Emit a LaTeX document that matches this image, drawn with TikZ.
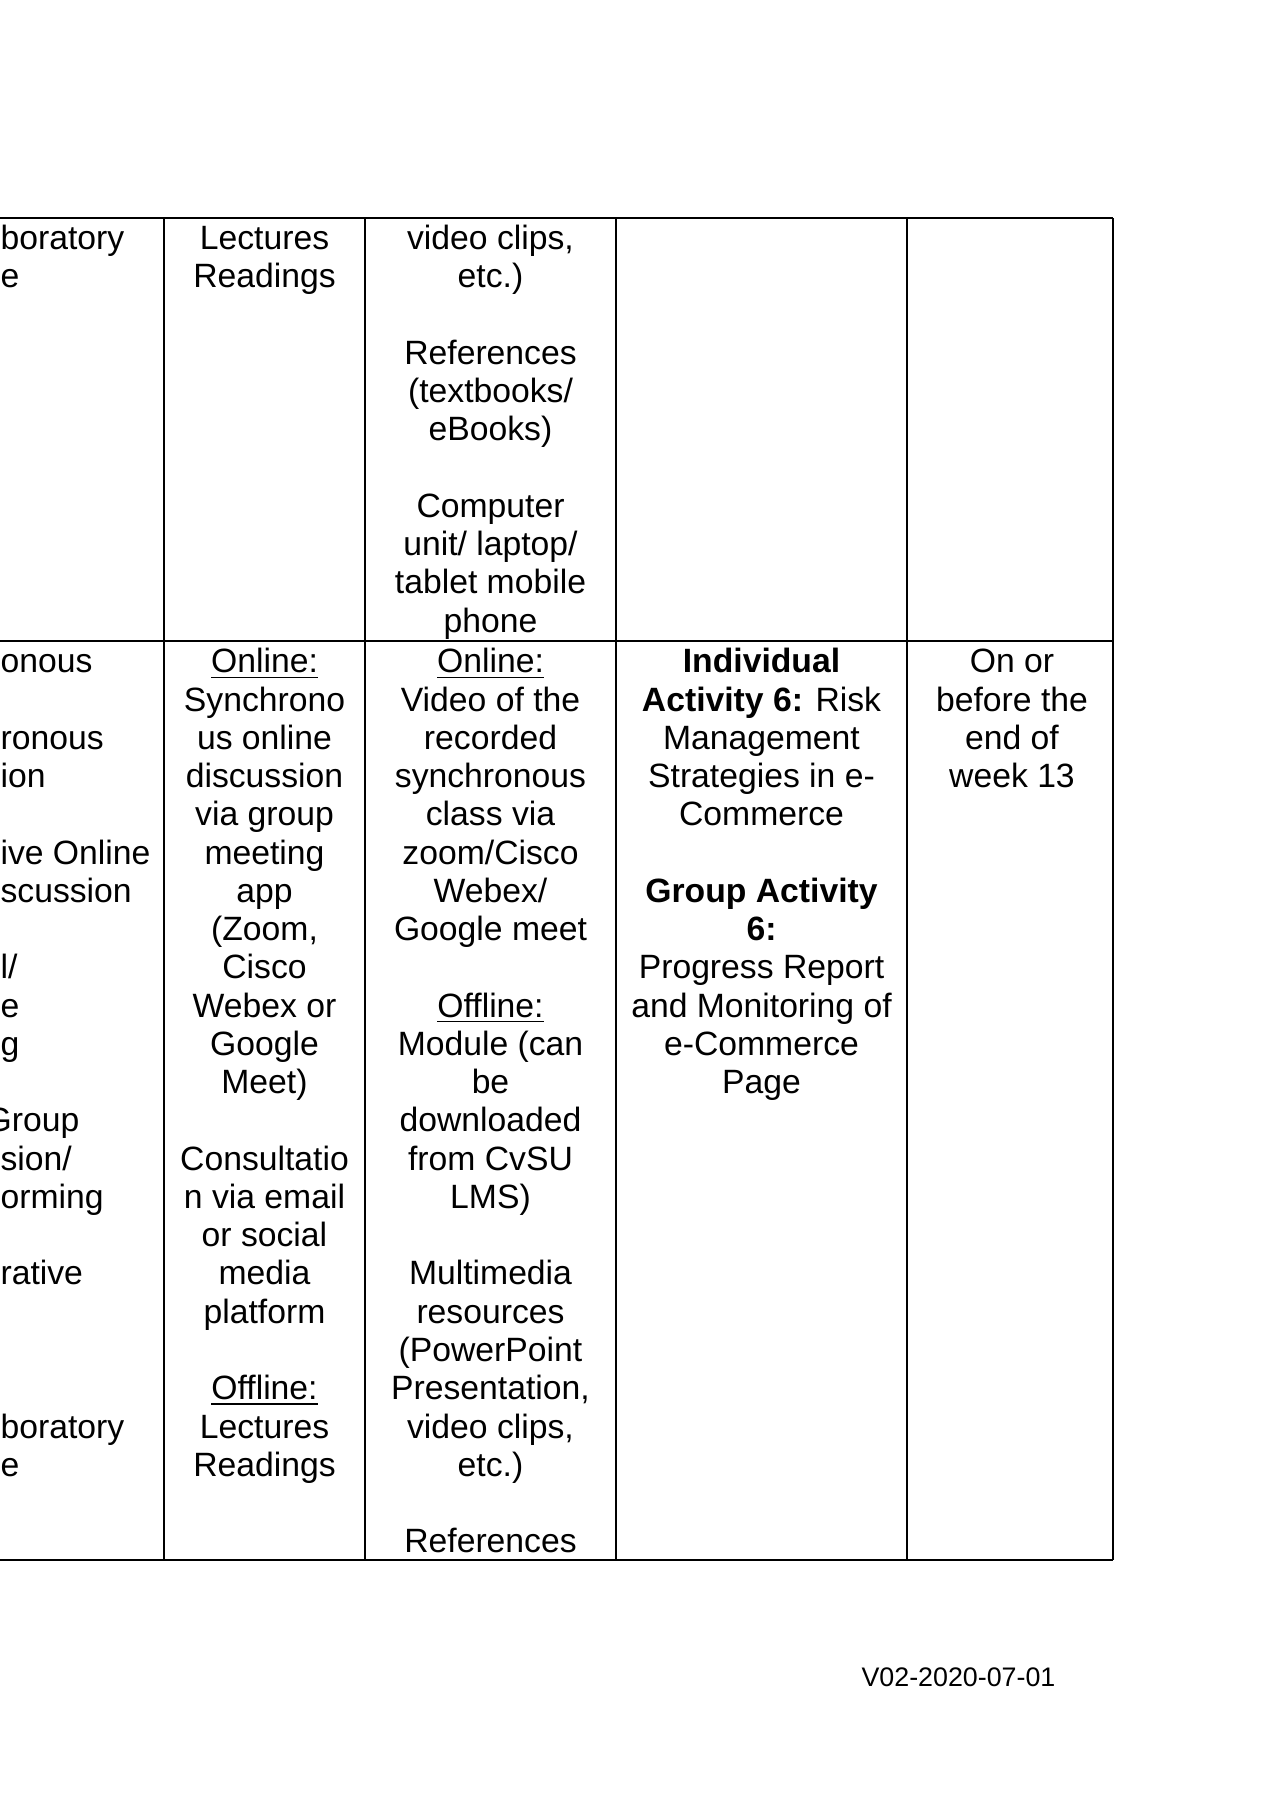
\documentclass[tikz,border=0pt]{standalone}
\usepackage{fontspec}
\setmainfont{Liberation Sans}

\begin{document}
\begin{tikzpicture}[x=0.356pt, y=-0.356pt,
    rule/.style={line width=0.5pt},
    cell/.style={inner sep=0pt, anchor=north, align=center, font=\fontsize{12}{13.62}\selectfont},
    cutcell/.style={inner sep=0pt, anchor=north west, align=left, font=\fontsize{12}{13.62}\selectfont}]
\useasboundingbox (0,0) rectangle (1273,1800);
\clip (0,0) rectangle (1273,1800);

\draw[rule] (0,218) -- (1113,218);
\draw[rule] (0,641) -- (1113,641);
\draw[rule] (0,1560) -- (1113,1560);
\draw[rule] (164,218) -- (164,1560);
\draw[rule] (365,218) -- (365,1560);
\draw[rule] (616,218) -- (616,1560);
\draw[rule] (907,218) -- (907,1560);
\draw[rule] (1113,218) -- (1113,1560);

\node[cutcell] (labone) at (0,222.3) {\strut boratory\\e};
\node[cell] (lectone) at (264.5,222.3) {\strut Lectures\\Readings};
\node[cell] (resone) at (490.5,222.3) {\strut video clips,\\etc.)\\\strut\\References\\(textbooks/\\eBooks)\\\strut\\Computer\\unit/ laptop/\\tablet mobile\\phone};

\node[cutcell] (modetwo) at (0,645.5) {\strut onous\\\strut\\ronous\\ion\\\strut\\ive Online\\scussion\\\strut\\l/\\e\\g\\\strut\\\hspace*{-5.3pt}Group\\sion/\\orming\\\strut\\rative\\\strut\\\strut\\\strut\\boratory\\e};
\node[cell] (synctwo) at (264.5,645.5) {\strut\underline{Online:}\\Synchrono\\us online\\discussion\\via group\\meeting\\app\\(Zoom,\\Cisco\\Webex or\\Google\\Meet)\\\strut\\Consultatio\\n via email\\or social\\media\\platform\\\strut\\\underline{Offline:}\\Lectures\\Readings};
\node[cell] (restwo) at (490.5,645.5) {\strut\underline{Online:}\\Video of the\\recorded\\synchronous\\class via\\zoom/Cisco\\Webex/\\Google meet\\\strut\\\underline{Offline:}\\Module (can\\be\\downloaded\\from CvSU\\LMS)\\\strut\\Multimedia\\resources\\(PowerPoint\\Presentation,\\video clips,\\etc.)\\\strut\\References};
\node[cell] (acttwo) at (761.5,645.5) {\strut\textbf{Individual}\\\textbf{Activity 6:} Risk\\Management\\Strategies in e-\\Commerce\\\strut\\\textbf{Group Activity}\\\textbf{6:}\\Progress Report\\and Monitoring of\\e-Commerce\\Page};
\node[cell] (duetwo) at (1012,645.5) {\strut On or\\before the\\end of\\week 13};

\node[anchor=base west, inner sep=0pt, font=\fontsize{9.55}{11}\selectfont] (version) at (861,1686) {V02-2020-07-01};
\end{tikzpicture}
\end{document}
